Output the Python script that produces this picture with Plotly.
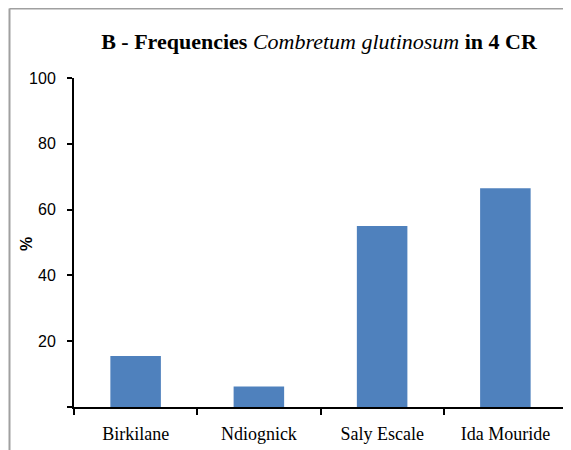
import plotly.graph_objects as go

categories = ["Birkilane", "Ndiognick", "Saly Escale", "Ida Mouride"]
values = [15.5, 6.2, 55.0, 66.5]
y_ticks = [0, 20, 40, 60, 80, 100]
y_tick_labels = ["", "20", "40", "60", "80", "100"]

OFF = 8  # page body offset
W, H = 571 - OFF, 450 - OFF
L, T = 74 - OFF, 78 - OFF
R = W - (567 - OFF)
B = H - (407 - OFF)
pw, ph = W - L - R, H - T - B

def px_x(p):
    return (p - OFF - L) / pw

def px_y(p):
    return (H - B - (p - OFF)) / ph

fig = go.Figure(go.Bar(
    x=categories, y=values,
    marker=dict(color="#4F81BD", line=dict(color="#4F81BD", width=0)),
    width=0.41,
))

title_text = ("<b>B - Frequencies </b>"
              "<span style=\"font-family:'Times New Roman', 'Liberation Serif', 'DejaVu Serif', serif; font-style:italic\">Combretum glutinosum</span>"
              "<b> in 4 CR</b>")

fig.update_layout(
    width=W, height=H,
    margin=dict(l=L, r=R, t=T, b=B),
    paper_bgcolor="white", plot_bgcolor="white",
    showlegend=False,
    title=dict(
        text=title_text,
        x=(319 - OFF) / W, xanchor="center",
        y=1 - (41 - OFF) / H, yanchor="middle",
        font=dict(family="Liberation Serif", size=22, color="black"),
    ),
    xaxis=dict(
        showline=True, linecolor="black", linewidth=2,
        ticks="outside", ticklen=6, tickwidth=1.5, tickcolor="black",
        tickson="boundaries", showgrid=False,
        ticklabelstandoff=9,
        tickfont=dict(family="Liberation Serif", size=18, color="black"),
    ),
    yaxis=dict(
        range=[0, 100], tickvals=y_ticks, ticktext=y_tick_labels,
        showline=True, linecolor="black", linewidth=2,
        ticks="outside", ticklen=5, tickwidth=1.5, tickcolor="black",
        showgrid=False, zeroline=False,
        ticklabelstandoff=8,
        tickfont=dict(family="Liberation Sans", size=16, color="black"),
    ),
    annotations=[
        dict(text="<b>%</b>", xref="paper", yref="paper",
             x=px_x(26), y=px_y(244), xanchor="center", yanchor="middle",
             textangle=-90, showarrow=False,
             font=dict(family="Liberation Sans", size=16, color="black")),
    ],
    shapes=[
        dict(type="line", xref="paper", yref="paper",
             x0=px_x(9.5), x1=px_x(9.5), y0=px_y(8.5), y1=px_y(460),
             line=dict(color="#A0A0A0", width=2)),
        dict(type="line", xref="paper", yref="paper",
             x0=px_x(9.5), x1=px_x(590), y0=px_y(8.5), y1=px_y(8.5),
             line=dict(color="#A0A0A0", width=2)),
    ],
)

fig.write_html("out.html")
